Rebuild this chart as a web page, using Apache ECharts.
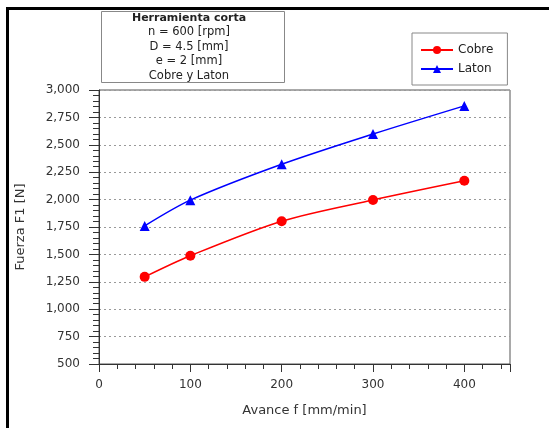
<!DOCTYPE html>
<html>
<head>
<meta charset="utf-8">
<script src="https://cdn.jsdelivr.net/npm/echarts@6/dist/echarts.min.js"></script>
<style>
html,body{margin:0;padding:0;background:#fff;}
#chart{width:549px;height:428px;}
</style>
</head>
<body>
<div id="chart"></div>
<script>
const avance = [50, 100, 200, 300, 400];
const cobre = [1295, 1488, 1803, 1997, 2172];
const laton = [1760, 1995, 2322, 2598, 2855];
const seriesNames = ['Cobre', 'Laton'];
const noteLines = ['Herramienta corta', 'n = 600 [rpm]', 'D = 4.5 [mm]', 'e = 2 [mm]', 'Cobre y Laton'];

const chart = echarts.init(document.getElementById('chart'), null, {renderer: 'canvas'});
const font = '"DejaVu Sans", Verdana, sans-serif';

chart.setOption({
  animation: false,
  backgroundColor: '#fff',
  grid: {left: 99, top: 90, right: 39, bottom: 64, show: true, borderColor: '#555', borderWidth: 1, backgroundColor: 'transparent'},
  legend: {
    data: seriesNames,
    orient: 'vertical',
    left: 412, top: 33,
    padding: [11, 14, 10, 8],
    itemGap: 7,
    itemWidth: 32, itemHeight: 10,
    borderColor: '#888', borderWidth: 1,
    textStyle: {fontFamily: font, fontSize: 12, color: '#222'}
  },
  xAxis: {
    type: 'value', min: 0, max: 450, interval: 100,
    name: 'Avance f [mm/min]', nameLocation: 'middle', nameGap: 40,
    nameTextStyle: {fontFamily: font, fontSize: 13, color: '#333'},
    axisLine: {show: true, lineStyle: {color: '#333', width: 1}},
    axisTick: {show: true, length: 8, lineStyle: {color: '#333'}},
    minorTick: {show: true, splitNumber: 5, length: 5, lineStyle: {color: '#333'}},
    axisLabel: {showMaxLabel: false, margin: 15, fontFamily: font, fontSize: 12, color: '#333'},
    splitLine: {show: false}
  },
  yAxis: {
    type: 'value', min: 500, max: 3000, interval: 250,
    name: 'Fuerza F1 [N]', nameLocation: 'middle', nameGap: 72,
    nameTextStyle: {fontFamily: font, fontSize: 13, color: '#333'},
    axisLine: {show: true, lineStyle: {color: '#333', width: 1}},
    axisTick: {show: true, length: 10, lineStyle: {color: '#333'}},
    minorTick: {show: true, splitNumber: 5, length: 6, lineStyle: {color: '#333'}},
    axisLabel: {
      margin: 19, fontFamily: font, fontSize: 12, color: '#333',
      formatter: v => v.toLocaleString('en-US')
    },
    splitLine: {show: true, lineStyle: {color: '#999', type: [2, 3], width: 1}}
  },
  series: [
    {
      name: seriesNames[0], type: 'line', smooth: 0.3,
      data: avance.map((x, i) => [x, cobre[i]]),
      symbol: 'circle', symbolSize: 10,
      lineStyle: {color: '#ff0000', width: 1.5},
      itemStyle: {color: '#ff0000'}
    },
    {
      name: seriesNames[1], type: 'line', smooth: 0.3,
      data: avance.map((x, i) => [x, laton[i]]),
      symbol: 'triangle', symbolSize: 10,
      lineStyle: {color: '#0000ff', width: 1.5},
      itemStyle: {color: '#0000ff'}
    }
  ],
  graphic: [
    {type: 'rect', shape: {x: 6, y: 7, width: 543, height: 3}, style: {fill: '#000'}},
    {type: 'rect', shape: {x: 6, y: 7, width: 3, height: 421}, style: {fill: '#000'}},
    {type: 'rect', shape: {x: 101.5, y: 11.5, width: 183, height: 71}, style: {fill: '#fff', stroke: '#888', lineWidth: 1}},
    ...noteLines.map((t, i) => ({
      type: 'text',
      style: {
        text: t, x: 189, y: 18 + i * 14.5, textAlign: 'center', textVerticalAlign: 'middle',
        font: (i === 0 ? 'bold 11px ' : '11.5px ') + font, fill: '#222'
      }
    }))
  ]
});
</script>
</body>
</html>
